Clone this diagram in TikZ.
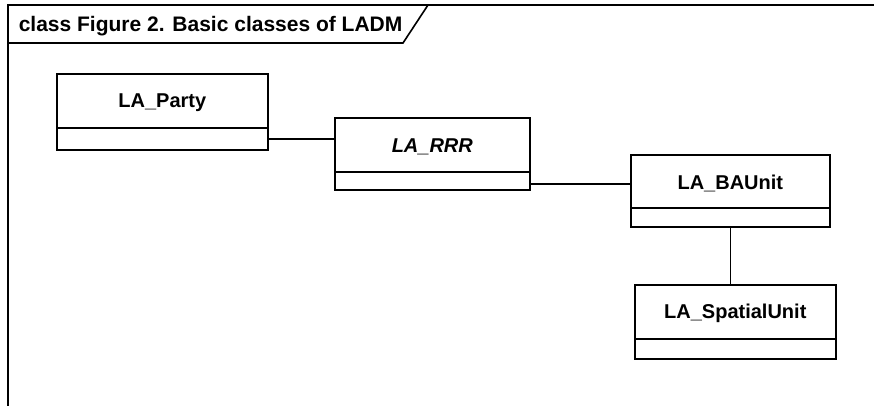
\documentclass[tikz,border=0pt]{standalone}
\usepackage{fontspec}
\setmainfont{Liberation Sans}
\begin{document}
\begin{tikzpicture}[x=1pt,y=-1pt,
  line width=1.6pt,
  classbox/.style={draw, line width=1.6pt, inner sep=0pt, anchor=north west},
  lbl/.style={font=\fontsize{20}{24}\selectfont\bfseries, inner sep=0pt},
  conn/.style={draw, line width=1.6pt}]
\useasboundingbox (0,0) rectangle (874,405);
\fill[white] (0,0) rectangle (874,405);
% frame
\draw (8,405.5) -- (8,5) -- (875,5);
\draw (8,43) -- (403,43) -- (428,5);
\node[lbl, font=\fontsize{21}{24}\selectfont\bfseries, anchor=base west] (title) at (18,31) {class Figure 2. Basic classes of LADM};
% LA_Party
\node[classbox, minimum width=211pt, minimum height=54pt] (party) at (56,73) {};
\node[classbox, minimum width=211pt, minimum height=22pt] (partyops) at (56,127) {};
\node[lbl] (partyl) at ([yshift=-2pt]party.center) {LA\_Party};
% LA_RRR
\node[classbox, minimum width=195pt, minimum height=54pt] (rrr) at (334,117) {};
\node[classbox, minimum width=195pt, minimum height=18pt] (rrrops) at (334,171) {};
\node[lbl, font=\fontsize{20}{24}\selectfont\bfseries\itshape] (rrrl) at ([yshift=-2pt]rrr.center) {LA\_RRR};
% LA_BAUnit
\node[classbox, minimum width=199pt, minimum height=53pt] (ba) at (630,154) {};
\node[classbox, minimum width=199pt, minimum height=19pt] (baops) at (630,207) {};
\node[lbl] (bal) at ([yshift=-2pt]ba.center) {LA\_BAUnit};
% LA_SpatialUnit
\node[classbox, minimum width=201pt, minimum height=54pt] (sp) at (634,284) {};
\node[classbox, minimum width=201pt, minimum height=20pt] (spops) at (634,338) {};
\node[lbl] (spl) at ([yshift=-2pt]sp.center) {LA\_SpatialUnit};
% connectors
\draw[conn] (partyops.east) -- (rrr.west |- partyops.east);
\coordinate (rb) at ([yshift=-3pt]rrrops.east);
\draw[conn] (rb) -- (ba.west |- rb);
\draw[conn] (baops.south) -- (sp.north -| baops.south);
\end{tikzpicture}
\end{document}
